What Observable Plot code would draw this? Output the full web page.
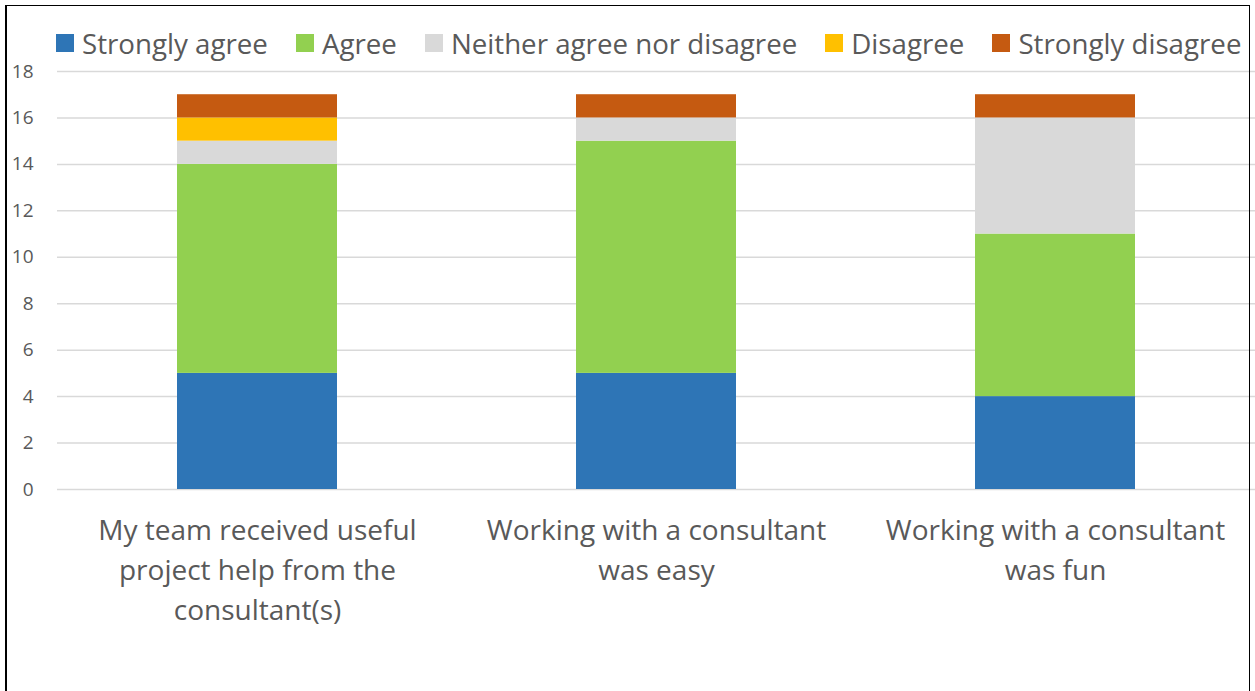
<!DOCTYPE html>
<html>
<head>
<meta charset="utf-8">
<script src="https://cdn.jsdelivr.net/npm/d3@7"></script>
<script src="https://cdn.jsdelivr.net/npm/@observablehq/plot@0.6"></script>
<style>
  html, body { margin: 0; padding: 0; background: #fff; }
  #frame { position: relative; width: 1255px; height: 691px; overflow: hidden; background: #fff; font-family: "Open Sans", sans-serif; }
  #border { position: absolute; left: 5px; top: 5px; width: 1245px; height: 700px; border-left: 2px solid #000; border-top: 1px solid #000; border-right: 1px solid #000; box-sizing: border-box; pointer-events: none; }
  #legend { position: absolute; left: 56px; top: 24px; height: 38px; display: flex; align-items: center; gap: 28px; color: #595959; font-size: 27.7px; white-space: nowrap; }
  .item { display: flex; align-items: center; }
  .sw { width: 18px; height: 18px; margin-right: 8px; }
  #chart { position: absolute; left: 0; top: 50px; }
</style>
</head>
<body>
<div id="frame">
  <div id="legend"></div>
  <div id="chart"></div>
  <div id="border"></div>
</div>
<script>
const categories = [
  "My team received useful project help from the consultant(s)",
  "Working with a consultant was easy",
  "Working with a consultant was fun"
];
const categoryLines = [
  "My team received useful\nproject help from the\nconsultant(s)",
  "Working with a consultant\nwas easy",
  "Working with a consultant\nwas fun"
];
const responses = ["Strongly agree", "Agree", "Neither agree nor disagree", "Disagree", "Strongly disagree"];
const colors = ["#2E75B6", "#92D050", "#D9D9D9", "#FFC000", "#C55A11"];
const stronglyAgree = [5, 5, 4];
const agree = [9, 10, 7];
const neither = [1, 1, 5];
const disagree = [1, 0, 0];
const stronglyDisagree = [1, 1, 1];
const yTicks = [0, 2, 4, 6, 8, 10, 12, 14, 16, 18];

const series = [stronglyAgree, agree, neither, disagree, stronglyDisagree];
const rows = [];
responses.forEach((r, i) => {
  categories.forEach((c, j) => {
    rows.push({category: c, response: r, value: series[i][j]});
  });
});

// legend
const legend = document.getElementById("legend");
responses.forEach((r, i) => {
  const it = document.createElement("div");
  it.className = "item";
  const sw = document.createElement("span");
  sw.className = "sw";
  sw.style.background = colors[i];
  const t = document.createElement("span");
  t.textContent = r;
  it.appendChild(sw);
  it.appendChild(t);
  legend.appendChild(it);
});

const labelOf = new Map(categories.map((c, i) => [c, categoryLines[i]]));

const chart = Plot.plot({
  width: 1255,
  height: 641,
  marginLeft: 57,
  marginRight: 0,
  marginTop: 21,
  marginBottom: 202,
  style: {fontFamily: "Open Sans, sans-serif", color: "#595959", background: "transparent", overflow: "visible"},
  x: {domain: categories, paddingInner: 0.6, paddingOuter: 0.3, axis: null},
  y: {domain: [0, 18], ticks: yTicks, axis: null},
  color: {domain: responses, range: colors},
  marks: [
    Plot.ruleY(yTicks, {stroke: "#D9D9D9", strokeWidth: 1.5}),
    Plot.axisY({ticks: yTicks, tickSize: 0, tickPadding: 24, fontSize: 19, label: null, fill: "#595959"}),
    Plot.barY(rows, Plot.stackY({x: "category", y: "value", fill: "response", order: responses})),
    Plot.text(categories, {
      x: d => d, y: 0, text: d => labelOf.get(d),
      lineAnchor: "top", dy: 22, fontSize: 28, lineHeight: 1.43, fill: "#595959"
    })
  ]
});
document.getElementById("chart").appendChild(chart);
</script>
</body>
</html>
